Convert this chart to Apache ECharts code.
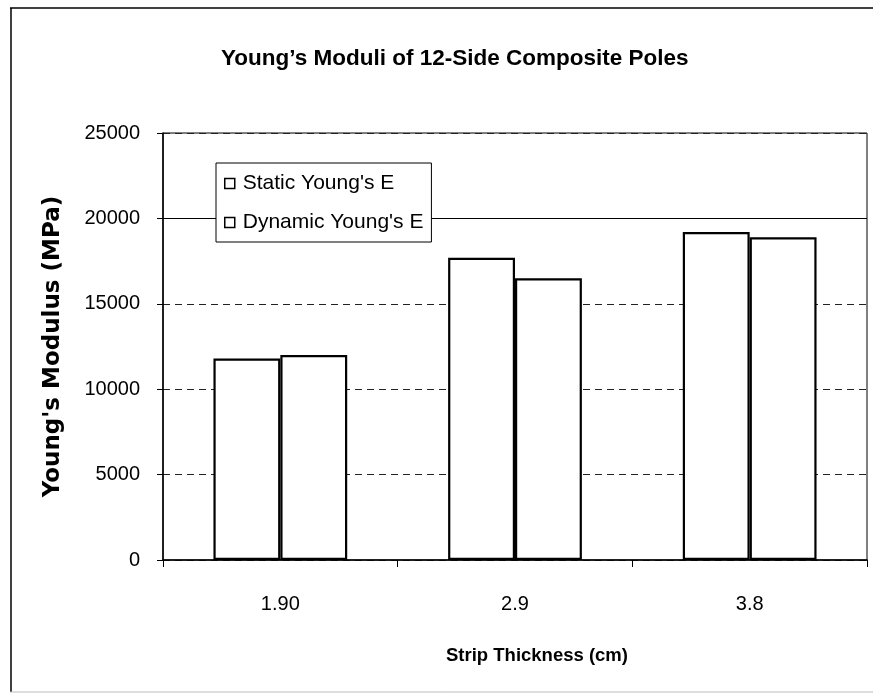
<!DOCTYPE html>
<html>
<head>
<meta charset="utf-8">
<script src="https://cdn.jsdelivr.net/npm/echarts@6/dist/echarts.min.js"></script>
<style>html,body{margin:0;padding:0;background:#fff;}#c{width:873px;height:699px;}</style>
</head>
<body>
<div id="c"></div>
<script>
var categories = ['1.90', '2.9', '3.8'];
var staticE = [11800, 17700, 19200];
var dynamicE = [12000, 16500, 18900];
var seriesNames = ["Static Young's E", "Dynamic Young's E"];
var yTicks = {min: 0, max: 25000, interval: 5000};
var solidGridTicks = [20000];

var FONT = "'Liberation Sans', Arial, sans-serif";
var WIDE = "'DejaVu Sans', 'Liberation Sans', Arial, sans-serif";
var chart = echarts.init(document.getElementById('c'), null, {renderer: 'canvas'});
var barStyle = {color: '#fff', borderColor: '#000', borderWidth: 2.2};
chart.setOption({
  backgroundColor: '#fff',
  animation: false,
  graphic: [
    {type: 'line', shape: {x1: 10, y1: 8, x2: 873, y2: 8}, style: {stroke: '#000', lineWidth: 1.5}},
    {type: 'line', shape: {x1: 11, y1: 8, x2: 11, y2: 692}, style: {stroke: '#000', lineWidth: 1.5}},
    {type: 'line', shape: {x1: 10, y1: 692, x2: 873, y2: 692}, style: {stroke: '#bbb', lineWidth: 1}}
  ],
  title: {
    text: "Young\u2019s Moduli of 12-Side Composite Poles",
    left: 216, top: 42, padding: 5,
    textStyle: {fontFamily: FONT, fontWeight: 'bold', fontSize: 22.5, color: '#000'}
  },
  legend: {
    orient: 'vertical', left: 216, top: 163,
    data: seriesNames,
    icon: 'rect', itemWidth: 10, itemHeight: 10, itemGap: 18,
    padding: [10, 8, 9, 8],
    backgroundColor: '#fff', borderColor: '#000', borderWidth: 1,
    itemStyle: {color: '#fff', borderColor: '#000', borderWidth: 1.5},
    textStyle: {fontFamily: FONT, fontSize: 21, color: '#000', padding: [0, 0, 0, 3]}
  },
  grid: {left: 163, right: 6, top: 133, bottom: 139, show: true, borderColor: '#000', borderWidth: 1, backgroundColor: 'transparent'},
  xAxis: {
    type: 'category', data: categories,
    name: 'Strip Thickness (cm)', nameLocation: 'middle', nameGap: 86,
    nameTextStyle: {fontFamily: FONT, fontWeight: 'bold', fontSize: 18.5, color: '#000', padding: [0, 0, 0, 44]},
    axisLine: {lineStyle: {color: '#000', width: 1.5}},
    axisTick: {show: true, length: 7, lineStyle: {color: '#000'}},
    axisLabel: {fontFamily: FONT, fontSize: 20, color: '#000', margin: 34}
  },
  yAxis: {
    type: 'value', min: yTicks.min, max: yTicks.max, interval: yTicks.interval,
    name: "Young's Modulus (MPa)", nameLocation: 'middle', nameGap: 98,
    nameTextStyle: {fontFamily: WIDE, fontWeight: 'bold', fontSize: 23, color: '#000'},
    axisLine: {show: true, lineStyle: {color: '#000', width: 1.5}},
    axisTick: {show: true, length: 6, lineStyle: {color: '#000'}},
    axisLabel: {fontFamily: FONT, fontSize: 20, color: '#000', margin: 23, formatter: function (v) { return String(v); }},
    splitLine: {show: true, lineStyle: {color: '#222', type: [7, 5], width: 1}}
  },
  series: [
    {name: seriesNames[0], type: 'bar', data: staticE, barGap: '0%', barCategoryGap: '43%', itemStyle: barStyle,
     markLine: {silent: true, symbol: 'none', label: {show: false}, z: 1,
       lineStyle: {color: '#000', type: 'solid', width: 1.2},
       data: solidGridTicks.map(function (v) { return {yAxis: v}; })}},
    {name: seriesNames[1], type: 'bar', data: dynamicE, barGap: '0%', barCategoryGap: '43%', itemStyle: barStyle}
  ]
});
</script>
</body>
</html>
